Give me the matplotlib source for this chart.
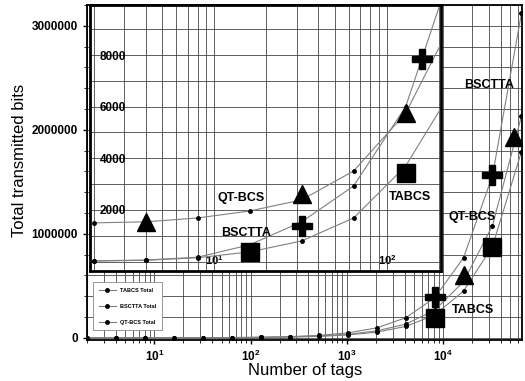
import matplotlib
matplotlib.use('Agg')
import matplotlib.pyplot as plt
from matplotlib import font_manager
from matplotlib.ticker import MultipleLocator, FixedLocator, LogLocator, NullFormatter

# number of tags (powers of two) and total transmitted bits per protocol
tags = [2, 4, 8, 16, 32, 64, 128, 256, 512, 1024, 2048, 4096, 8192, 16384, 32768, 65536]
tabcs_bits = [20, 50, 150, 375, 800, 1690, 3700, 7000, 14000, 28000, 55000, 110000,
              220000, 450000, 880000, 1790000]
bsctta_bits = [30, 60, 170, 650, 1540, 2930, 6000, 12000, 24000, 48000, 96000, 193000,
               385000, 770000, 1560000, 3120000]
qtbcs_bits = [1500, 1540, 1690, 1960, 2390, 3510, 5750, 9700, 17900, 34300, 67000, 132000,
              265000, 540000, 1080000, 2130000]

# big symbols sitting on the curves
main_square = ([8192, 32768], [190000, 875000])
main_cross = ([8192, 32768], [390000, 1570000])
main_tri = ([16384, 55000], [600000, 1930000])
inset_square = ([16, 128], [380, 3430])
inset_cross = ([32, 160], [1380, 7850])
inset_tri = ([4, 32, 128], [1540, 2600, 5750])

names = {f.name for f in font_manager.fontManager.ttflist}
fam = 'Liberation Sans Narrow' if 'Liberation Sans Narrow' in names else 'Liberation Sans'
plt.rcParams['font.family'] = [fam, 'DejaVu Sans']
plt.rcParams['font.weight'] = 'bold'

line_col = '#808080'
grid_col = '#454545'

fig = plt.figure(figsize=(5.25, 3.81), dpi=100)

# ---- main axes ----
ax = fig.add_axes([0.166, 0.108, 0.829, 0.879])
ax.set_xscale('log')
ax.set_xlim(2, 67000)
ax.set_ylim(-19000, 3.2e6)
ax.yaxis.set_major_locator(MultipleLocator(1e6))
ax.yaxis.set_minor_locator(MultipleLocator(2e5))
ax.ticklabel_format(axis='y', style='plain')
ax.xaxis.set_major_locator(LogLocator(base=10, numticks=10))
ax.xaxis.set_minor_locator(LogLocator(base=10, subs=range(2, 10), numticks=20))
ax.xaxis.set_minor_formatter(NullFormatter())
ax.grid(True, which='both', color=grid_col, lw=0.6)
ax.tick_params(axis='both', which='major', labelsize=8.5, length=3, width=1)
ax.tick_params(axis='both', which='minor', length=2)
for s in ax.spines.values():
    s.set_linewidth(1.3)

l1, = ax.plot(tags, tabcs_bits, '-o', color=line_col, lw=0.8, ms=2.5, mfc='k', mec='k')
l2, = ax.plot(tags, bsctta_bits, '-o', color=line_col, lw=0.8, ms=2.5, mfc='k', mec='k')
l3, = ax.plot(tags, qtbcs_bits, '-o', color=line_col, lw=0.8, ms=2.5, mfc='k', mec='k')
ax.plot(*main_square, 's', color='k', ms=13, ls='none')
ax.plot(*main_cross, 'P', color='k', ms=14, ls='none')
ax.plot(*main_tri, '^', color='k', ms=13, ls='none')

ax.text(30100, 2.43e6, 'BSCTTA', fontsize=9, ha='center', va='center')
ax.text(20000, 1.16e6, 'QT-BCS', fontsize=9, ha='center', va='center')
ax.text(20500, 0.27e6, 'TABCS', fontsize=9, ha='center', va='center')

ax.set_xlabel('Number of tags', fontsize=12, labelpad=-1)
ax.set_ylabel('Total transmitted bits', fontsize=12, labelpad=2)
ax.yaxis.set_label_coords(-0.138, 0.535)

leg = ax.legend([l1, l2, l3], ['TABCS Total', 'BSCTTA Total', 'QT-BCS Total'],
                loc='lower left', bbox_to_anchor=(0.008, 0.02), fontsize=4,
                labelspacing=2.0, handlelength=3, borderpad=1.0, framealpha=1,
                edgecolor='#888888', fancybox=False)
leg.get_frame().set_linewidth(0.6)

# ---- inset ----
ins = fig.add_axes([0.171, 0.289, 0.669, 0.698])
ins.set_facecolor('white')
ins.set_xscale('log')
ins.set_xlim(1.9, 205)
ins.set_ylim(-360, 9940)
ins.yaxis.set_major_locator(FixedLocator([2000, 4000, 6000, 8000]))
ins.yaxis.set_minor_locator(MultipleLocator(1000))
ins.xaxis.set_major_locator(LogLocator(base=10, numticks=10))
ins.xaxis.set_minor_locator(LogLocator(base=10, subs=range(2, 10), numticks=20))
ins.xaxis.set_minor_formatter(NullFormatter())
ins.grid(True, which='both', color=grid_col, lw=0.6)
ins.tick_params(axis='y', which='both', length=0, pad=-7, labelsize=8.5)
ins.tick_params(axis='x', which='both', length=0, pad=-13, labelsize=8)
for lab in ins.get_yticklabels():
    lab.set_horizontalalignment('left')
for s in ins.spines.values():
    s.set_linewidth(2)

for vals in (tabcs_bits, bsctta_bits, qtbcs_bits):
    ins.plot(tags, vals, '-o', color=line_col, lw=0.8, ms=2.5, mfc='k', mec='k')
ins.plot(*inset_square, 's', color='k', ms=13, ls='none')
ins.plot(*inset_cross, 'P', color='k', ms=14, ls='none')
ins.plot(*inset_tri, '^', color='k', ms=13, ls='none')

ins.text(14.3, 2470, 'QT-BCS', fontsize=9, ha='center', va='center')
ins.text(15.3, 1110, 'BSCTTA', fontsize=9, ha='center', va='center')
ins.text(136, 2500, 'TABCS', fontsize=9, ha='center', va='center')

fig.savefig('out.png', dpi=100)
